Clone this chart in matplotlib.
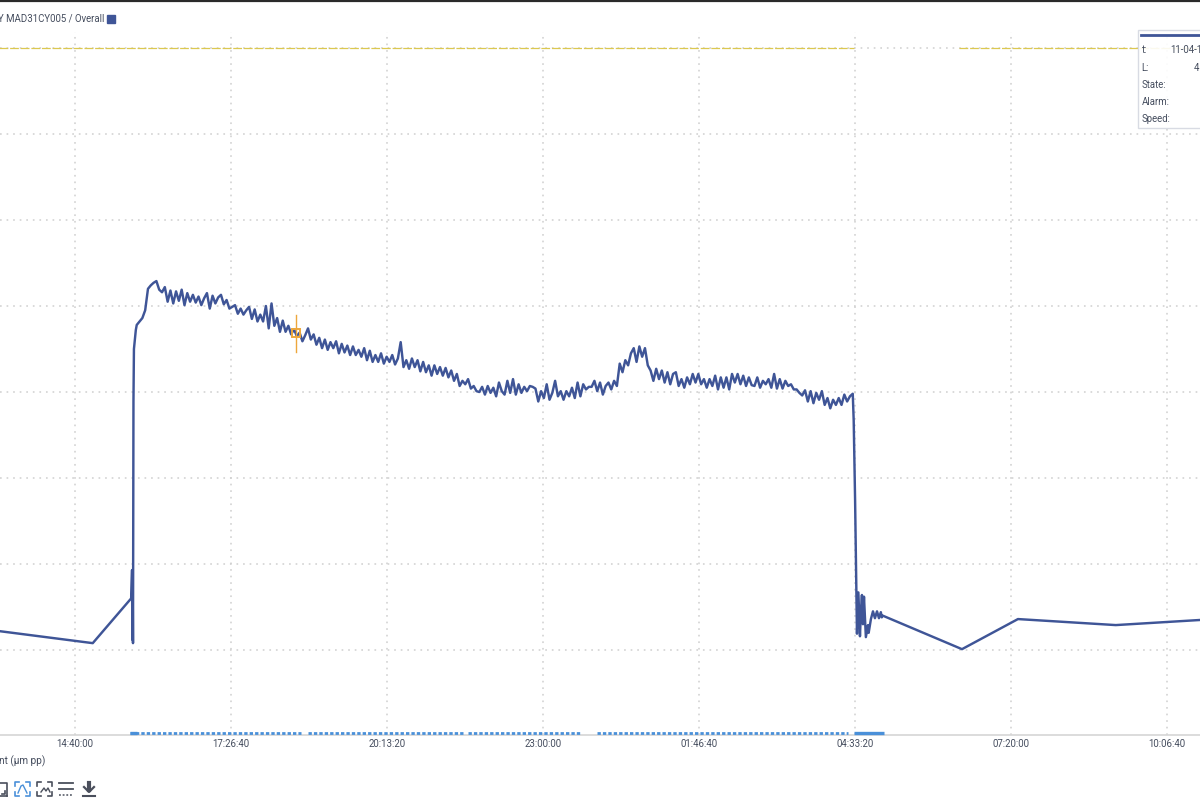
import matplotlib
matplotlib.use('Agg')
from matplotlib import pyplot as plt
from matplotlib.lines import Line2D
from matplotlib.patches import Rectangle

plt.rcParams['font.family'] = ['Roboto', 'DejaVu Sans']

# time is in minutes after 14:40:00, level in grid steps
tick_times = [0, 166.67, 333.33, 500, 666.67, 833.33, 1000, 1166.67]
tick_labels = ['14:40:00', '17:26:40', '20:13:20', '23:00:00', '01:46:40', '04:33:20', '07:20:00', '10:06:40']
grid_levels = [0, 1, 2, 3, 4, 5, 6, 7]

before_t = [-81, 19, 60, 61, 61.3, 61.6, 62, 62.5, 63, 65]
before_v = [0.22, 0.08, 0.60, 0.93, 0.12, 0.85, 0.08, 2.9, 3.5, 3.72]

run_t = [66, 69, 72, 75, 78, 81, 84, 87, 90, 93,
         96, 99, 102, 105, 108, 111, 114, 117, 120, 123,
         126, 129, 132, 135, 138, 141, 144, 147, 150, 153,
         156, 159, 162, 165, 168, 171, 174, 177, 180, 183,
         186, 189, 192, 195, 198, 201, 204, 207, 210, 213,
         216, 219, 222, 225, 228, 231, 234, 237, 240, 243,
         246, 249, 252, 255, 258, 261, 264, 267, 270, 273,
         276, 279, 282, 285, 288, 291, 294, 297, 300, 303,
         306, 309, 312, 315, 318, 321, 324, 327, 330, 333,
         336, 339, 342, 345, 348, 351, 354, 357, 360, 363,
         366, 369, 372, 375, 378, 381, 384, 387, 390, 393,
         396, 399, 402, 405, 408, 411, 414, 417, 420, 423,
         426, 429, 432, 435, 438, 441, 444, 447, 450, 453,
         456, 459, 462, 465, 468, 471, 474, 477, 480, 483,
         486, 489, 492, 495, 498, 501, 504, 507, 510, 513,
         516, 519, 522, 525, 528, 531, 534, 537, 540, 543,
         546, 549, 552, 555, 558, 561, 564, 567, 570, 573,
         576, 579, 582, 585, 588, 591, 594, 597, 600, 603,
         606, 609, 612, 615, 618, 621, 624, 627, 630, 633,
         636, 639, 642, 645, 648, 651, 654, 657, 660, 663,
         666, 669, 672, 675, 678, 681, 684, 687, 690, 693,
         696, 699, 702, 705, 708, 711, 714, 717, 720, 723,
         726, 729, 732, 735, 738, 741, 744, 747, 750, 753,
         756, 759, 762, 765, 768, 771, 774, 777, 780, 783,
         786, 789, 792, 795, 798, 801, 804, 807, 810, 813,
         816, 819, 822, 825, 828, 831]
run_v = [3.78, 3.82, 3.86, 3.95, 4.20, 4.24, 4.27, 4.29, 4.19, 4.16,
         4.22, 4.05, 4.18, 4.03, 4.17, 4.06, 4.19, 4.01, 4.15, 4.05,
         4.13, 4.04, 4.11, 4.01, 4.09, 4.15, 3.97, 4.12, 4.03, 4.10,
         4.13, 4.02, 4.07, 3.97, 3.99, 4.01, 3.91, 3.97, 3.90, 3.95,
         3.99, 3.85, 3.96, 3.82, 3.90, 3.82, 4.00, 3.74, 4.03, 3.77,
         3.86, 3.70, 3.83, 3.70, 3.77, 3.67, 3.73, 3.65, 3.69, 3.59,
         3.66, 3.74, 3.61, 3.67, 3.55, 3.63, 3.51, 3.61, 3.49, 3.58,
         3.51, 3.59, 3.45, 3.56, 3.46, 3.54, 3.43, 3.53, 3.43, 3.49,
         3.41, 3.51, 3.37, 3.48, 3.35, 3.43, 3.35, 3.45, 3.33, 3.41,
         3.35, 3.43, 3.32, 3.39, 3.58, 3.29, 3.37, 3.27, 3.39, 3.29,
         3.37, 3.24, 3.35, 3.23, 3.31, 3.19, 3.31, 3.21, 3.29, 3.19,
         3.28, 3.17, 3.25, 3.13, 3.21, 3.07, 3.13, 3.09, 3.15, 3.04,
         3.07, 3.01, 3.00, 3.06, 2.97, 3.07, 2.99, 3.05, 2.95, 3.11,
         3.01, 2.97, 3.13, 2.99, 3.15, 2.97, 3.09, 2.99, 3.06, 3.01,
         3.07, 3.06, 3.04, 2.89, 3.01, 2.93, 3.09, 2.91, 2.99, 3.13,
         2.95, 3.01, 2.91, 3.01, 2.95, 3.05, 2.93, 3.11, 2.95, 3.09,
         3.03, 3.06, 3.06, 3.13, 3.01, 3.11, 2.97, 3.07, 3.11, 3.03,
         3.13, 3.07, 3.33, 3.23, 3.37, 3.31, 3.45, 3.51, 3.35, 3.53,
         3.41, 3.51, 3.31, 3.25, 3.13, 3.27, 3.15, 3.25, 3.11, 3.23,
         3.09, 3.21, 3.23, 3.07, 3.15, 3.05, 3.17, 3.09, 3.21, 3.11,
         3.21, 3.09, 3.15, 3.05, 3.15, 3.07, 3.19, 3.03, 3.17, 3.05,
         3.17, 3.03, 3.21, 3.11, 3.21, 3.09, 3.19, 3.07, 3.17, 3.08,
         3.07, 3.17, 3.05, 3.13, 3.09, 3.15, 3.05, 3.21, 3.04, 3.15,
         3.04, 3.13, 3.07, 3.09, 3.03, 3.03, 2.99, 2.96, 3.02, 2.89,
         3.01, 2.87, 2.99, 2.91, 3.01, 2.85, 2.93, 2.81, 2.91, 2.85,
         2.93, 2.85, 2.97, 2.89, 2.95, 2.98]

after_t = [832, 833.5, 835.5, 837, 838.7, 839.8, 840.8, 841.9, 843, 845, 847.3, 848, 850.4,
           852.6, 854.7, 856.9, 859, 861, 862, 863, 947.7, 1007.5, 1112, 1203]
after_v = [2.67, 1.74, 0.19, 0.67, 0.16, 0.47, 0.64, 0.30, 0.62, 0.15, 0.29, 0.20, 0.36,
           0.45, 0.37, 0.45, 0.37, 0.44, 0.38, 0.40, 0.01, 0.36, 0.29, 0.35]

# limit line, broken where there is no reading
limit_starts = [-81, 945]
limit_ends = [832, 1203]
limit_level = 7

# running state strip along the bottom of the plot
dash_starts = [59, 249, 420, 558]
dash_ends = [241, 416, 541, 826]
solid_starts = [59, 832]
solid_ends = [66, 864]

marker_t = 236
marker_v = 3.69

BLUE = '#3f5597'
GREY = '#cfcfcf'
TEXT = '#454d5e'
FS = 6.9

fig = plt.figure(figsize=(12, 8), dpi=100)
ax = fig.add_axes([0, 1 - 735 / 800, 1, (735 - 32) / 800])
ax.set_xlim(-80.1, 1202)
ax.set_ylim(-0.988, 7.186)

for s in ['top', 'left', 'right']:
    ax.spines[s].set_visible(False)
ax.spines['bottom'].set_color('#d6d6d6')
ax.spines['bottom'].set_linewidth(1.2)

ax.set_xticks(tick_times)
ax.set_xticklabels(tick_labels, fontsize=FS, color=TEXT)
ax.tick_params(axis='x', length=0, pad=3)
ax.set_yticks(grid_levels)
ax.tick_params(axis='y', left=False, labelleft=False)
ax.grid(True, color=GREY, linewidth=1.1, linestyle=(0, (1.1, 3.2)))
ax.set_axisbelow(True)

for a, b in zip(limit_starts, limit_ends):
    ax.plot([a, b], [limit_level, limit_level], color='#dcc850', linewidth=0.9,
            linestyle=(0, (7, 1.5)), zorder=2)

ax.plot(before_t + run_t + after_t, before_v + run_v + after_v, color=BLUE, linewidth=1.75, zorder=3)

# hover marker
ax.plot([marker_t], [marker_v], marker='s', markersize=6, markerfacecolor='none',
        markeredgecolor='#eda73c', markeredgewidth=1.4, zorder=4)
ax.plot([marker_t, marker_t], [marker_v - 0.22, marker_v + 0.2], color='#eda73c', linewidth=1, zorder=4)

for a, b in zip(dash_starts, dash_ends):
    ax.plot([a, b], [-0.96, -0.96], color='#4a90d9', linewidth=2.0,
            linestyle=(0, (1.2, 0.75)), clip_on=False, zorder=3)
for a, b in zip(solid_starts, solid_ends):
    ax.plot([a, b], [-0.96, -0.96], color='#4a90d9', linewidth=2.4, clip_on=False,
            solid_capstyle='butt', zorder=3)


def px(x, y):
    return x / 1200, 1 - y / 800


def icon_line(xs, ys, color='#4a4f5c', lw=1.2):
    fig.add_artist(Line2D([x / 1200 for x in xs], [1 - y / 800 for y in ys],
                          color=color, linewidth=lw, transform=fig.transFigure))


# top border and header
icon_line([0, 1200], [0.5, 0.5], color='#2a2a2a', lw=1.6)
x0, y0 = px(-2, 19)
fig.text(x0, y0, 'Y MAD31CY005 / Overall', fontsize=FS, color=TEXT, va='center', ha='left')
sx, sy = px(107, 23)
fig.add_artist(Rectangle((sx, sy), 8 / 1200, 8 / 800, color=BLUE, transform=fig.transFigure))

# tooltip box
bx, by = px(1138, 128)
fig.add_artist(Rectangle((bx, by), 64 / 1200, 98 / 800, facecolor='white', alpha=0.9,
                         edgecolor='#d4d8e0', linewidth=1, transform=fig.transFigure, zorder=5))
fig.add_artist(Line2D([1141 / 1200, 1200 / 1200], [1 - 34.5 / 800, 1 - 34.5 / 800], color=BLUE,
                      linewidth=2, transform=fig.transFigure, zorder=6))
tip_rows = ['t:', 'L:', 'State:', 'Alarm:', 'Speed:']
tip_y = [50, 68, 85, 102, 119]
for label, y in zip(tip_rows, tip_y):
    x1, y1 = px(1141.5, y)
    fig.text(x1, y1, label, fontsize=FS, color=TEXT, va='center', zorder=7)
x1, y1 = px(1170, 50)
fig.text(x1, y1, '11-04-1', fontsize=FS, color=TEXT, va='center', zorder=7)
x1, y1 = px(1194, 68)
fig.text(x1, y1, '4', fontsize=FS, color=TEXT, va='center', zorder=7)

# footer
x1, y1 = px(-1, 761)
fig.text(x1, y1, 'nt (µm pp)', fontsize=FS + 0.3, color=TEXT, va='center')

# toolbar icons
icon_line([0, 7, 7], [783, 783, 796])
icon_line([0, 7], [796, 796])
icon_line([2, 5, 5], [793.5, 793.5, 791])
for off, col in [(15, '#4a90d9'), (37, '#4a4f5c')]:
    icon_line([off, off, off + 4], [786, 782, 782], col)
    icon_line([off + 11, off + 15, off + 15], [782, 782, 786], col)
    icon_line([off, off, off + 4], [792, 796, 796], col)
    icon_line([off + 11, off + 15, off + 15], [796, 796, 792], col)
icon_line([18, 21, 23, 25, 27], [793, 786, 785, 789, 793], '#4a90d9', lw=1)
icon_line([41, 44, 46, 48, 50], [792, 788, 791, 788, 792], '#4a4f5c', lw=1)
icon_line([59, 73], [783, 783], lw=1.3)
icon_line([59, 73], [789, 789], lw=1.3)
fig.add_artist(Line2D([59 / 1200, 73 / 1200], [1 - 795 / 800, 1 - 795 / 800], color='#4a4f5c',
                      linewidth=1.1, linestyle=(0, (1.2, 1.2)), transform=fig.transFigure))
icon_line([89, 89], [783, 790], lw=3)
icon_line([84, 89, 94], [787, 792, 787], lw=1.6)
icon_line([83, 95], [795.5, 795.5], lw=1.5)

fig.savefig('out.png', dpi=100)
